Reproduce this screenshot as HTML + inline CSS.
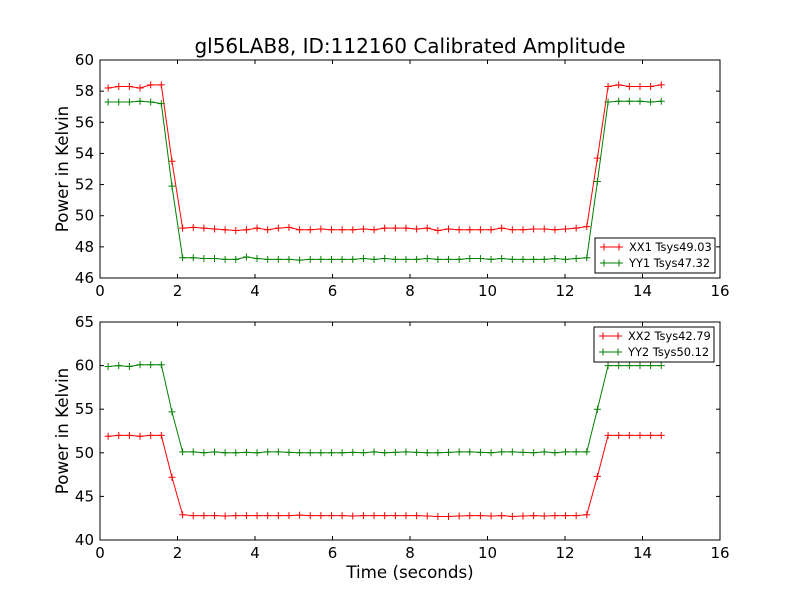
<!DOCTYPE html>
<html><head><meta charset="utf-8"><style>
body{margin:0;background:#fff}
svg{display:block;font-family:"DejaVu Sans","Liberation Sans",sans-serif}
</style></head><body>
<svg id="chart" width="800" height="600" viewBox="0 0 800 600" xmlns="http://www.w3.org/2000/svg">
<rect width="800" height="600" fill="#fff"/>
<text x="410" y="53" font-size="20" text-anchor="middle">gl56LAB8, ID:112160 Calibrated Amplitude</text>
<g id="top"></g><g id="bot"></g>
</svg>
<script>
const NS="http://www.w3.org/2000/svg";
const tStart=0.21, tStep=0.2745;
const xxTop=[58.2,58.3,58.3,58.2,58.4,58.4,53.5,
49.2,49.25,49.2,49.15,49.1,49.05,49.1,49.2,49.1,49.2,49.25,49.1,49.1,49.15,49.1,49.1,49.1,49.15,49.1,49.2,49.2,49.2,49.15,49.2,49.05,49.15,49.1,49.1,49.1,49.1,49.2,49.1,49.1,49.15,49.15,49.1,49.15,49.2,49.3,
53.7,58.3,58.4,58.3,58.3,58.3,58.4];
const yyTop=[57.3,57.3,57.3,57.35,57.3,57.2,51.9,
47.3,47.3,47.25,47.25,47.2,47.2,47.35,47.25,47.2,47.2,47.2,47.15,47.2,47.2,47.2,47.2,47.2,47.25,47.2,47.25,47.2,47.2,47.2,47.25,47.2,47.2,47.2,47.25,47.25,47.2,47.25,47.2,47.2,47.2,47.2,47.25,47.2,47.25,47.3,
52.2,57.3,57.35,57.35,57.35,57.3,57.35];
const xxBot=[51.9,52.0,52.0,51.9,52.0,52.0,47.2,
42.9,42.8,42.8,42.8,42.75,42.8,42.8,42.8,42.8,42.8,42.8,42.85,42.8,42.8,42.8,42.8,42.75,42.8,42.8,42.8,42.8,42.8,42.8,42.75,42.7,42.7,42.75,42.8,42.8,42.75,42.8,42.7,42.75,42.8,42.75,42.8,42.8,42.8,42.9,
47.3,52.0,52.0,52.0,52.0,52.0,52.0];
const yyBot=[59.9,60.0,59.9,60.1,60.1,60.1,54.7,
50.1,50.1,50.0,50.1,50.0,50.0,50.05,50.0,50.1,50.1,50.05,50.0,50.0,50.0,50.0,50.0,50.05,50.0,50.1,50.0,50.05,50.1,50.05,50.0,50.0,50.05,50.1,50.1,50.05,50.0,50.1,50.1,50.05,50.0,50.1,50.0,50.1,50.1,50.1,
55.0,60.0,60.0,60.0,60.0,60.0,60.0];
const xTicks=[0,2,4,6,8,10,12,14,16];
const yTicksTop=[46,48,50,52,54,56,58,60];
const yTicksBot=[40,45,50,55,60,65];
const legTop=["XX1 Tsys49.03","YY1 Tsys47.32"];
const legBot=["XX2 Tsys42.79","YY2 Tsys50.12"];

function el(tag,attrs,parent){const e=document.createElementNS(NS,tag);for(const k in attrs)e.setAttribute(k,attrs[k]);parent.appendChild(e);return e;}
function panel(g,top,bottom,ymin,ymax,yTicks,s1,s2,leg,legBox,showXLabel,prefix){
  const L=100,R=720;
  const X=v=>L+(v-0)/(16-0)*(R-L);
  const Y=v=>bottom-(v-ymin)/(ymax-ymin)*(bottom-top);
  [[s1,"#ff0000",leg[0]],[s2,"#008000",leg[1]]].forEach(([s,c,n],si)=>{
    const pts=s.map((v,i)=>[X(tStart+i*tStep),Y(v)]);
    const pl=el("polyline",{points:pts.map(p=>p.join(",")).join(" "),fill:"none",stroke:c,"stroke-width":1},g);
    
    
    let d="";pts.forEach(p=>{d+=`M${p[0]-3.5},${p[1]}h7M${p[0]},${p[1]-3.5}v7`;});
    const mk=el("path",{d:d,stroke:c,"stroke-width":1,fill:"none"},g);
    
    
  });
  const fr=el("rect",{x:L,y:top,width:R-L,height:bottom-top,fill:"none",stroke:"#000","stroke-width":1},g);
  
  
  xTicks.forEach(t=>{
    const x=X(t);
    el("line",{x1:x,x2:x,y1:bottom,y2:bottom-4,stroke:"#000"},g);
    el("line",{x1:x,x2:x,y1:top,y2:top+4,stroke:"#000"},g);
    const tx=el("text",{x:x,y:bottom+18,"font-size":15,"text-anchor":"middle"},g);
    tx.textContent=t;
    
    
  });
  yTicks.forEach(t=>{
    const y=Y(t);
    el("line",{x1:L,x2:L+4,y1:y,y2:y,stroke:"#000"},g);
    el("line",{x1:R,x2:R-4,y1:y,y2:y,stroke:"#000"},g);
    const tx=el("text",{x:L-6,y:y+5,"font-size":15,"text-anchor":"end"},g);
    tx.textContent=t;
    
    
  });
  const yl=el("text",{x:0,y:0,"font-size":16.7,"text-anchor":"middle",transform:`translate(68,${(top+bottom)/2}) rotate(-90)`},g);
  yl.textContent="Power in Kelvin";
  
  
  if(showXLabel){
    const xl=el("text",{x:410,y:578,"font-size":16.7,"text-anchor":"middle"},g);
    xl.textContent="Time (seconds)";
    
    
  }
  const [bx,by]=legBox;
  const lg=el("g",{},g);
  
  
  el("rect",{x:bx,y:by,width:120,height:35,fill:"#fff",stroke:"#000","stroke-width":1},lg);
  ["#ff0000","#008000"].forEach((c,i)=>{
    const y=by+9+i*16;
    const e=el("g",{},lg);
    
    
    el("line",{x1:bx+5,x2:bx+28,y1:y,y2:y,stroke:c},e);
    el("path",{d:`M${bx+9},${y-3.5}v7M${bx+24},${y-3.5}v7`,stroke:c},e);
    const t=el("text",{x:bx+34,y:y+4,"font-size":11.4},e);
    t.textContent=leg[i];
  });
}
panel(document.getElementById("top"),60,278,46,60,yTicksTop,xxTop,yyTop,legTop,[595,238],false,"top");
panel(document.getElementById("bot"),322,540,40,65,yTicksBot,xxBot,yyBot,legBot,[594,327],true,"bottom");
</script>
</body></html>
